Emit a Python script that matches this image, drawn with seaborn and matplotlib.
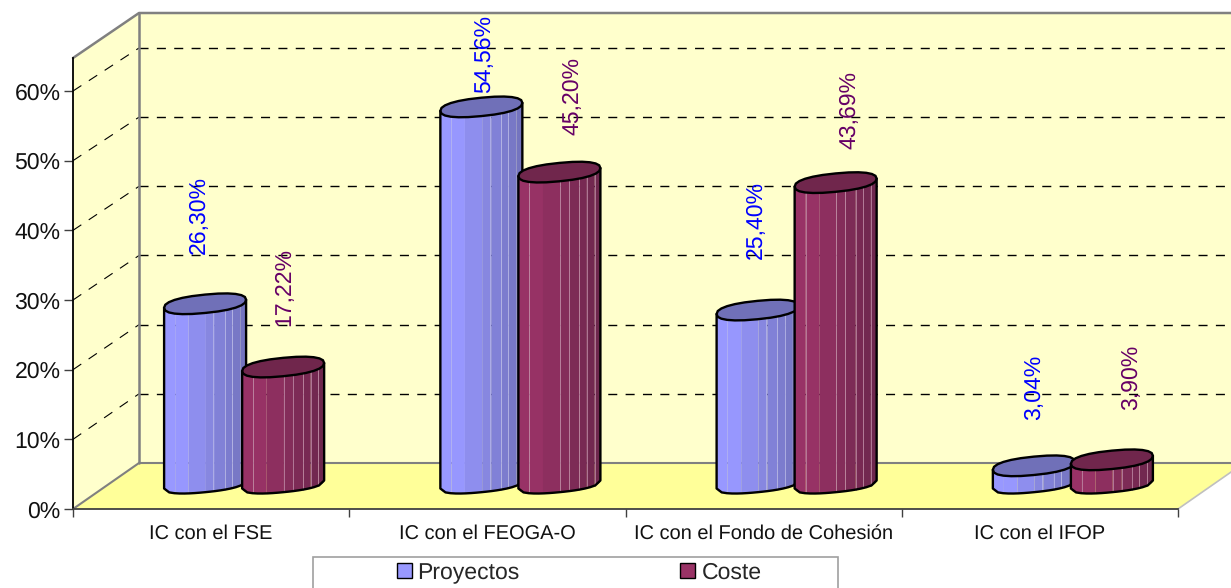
import numpy as np
import pandas as pd
import matplotlib
matplotlib.use('Agg')
import matplotlib.pyplot as plt
from matplotlib.patches import Patch, Rectangle
import seaborn as sns

categorias = ['IC con el FSE', 'IC con el FEOGA-O', 'IC con el Fondo de Cohesión', 'IC con el IFOP']
proyectos = [26.30, 54.56, 25.40, 3.04]
coste = [17.22, 45.20, 43.69, 3.90]
series = ['Proyectos', 'Coste']

W, H = 1231, 588
X0, X1, Y0, Y60, YTOP = 73, 1178, 509, 91, 58   # plano frontal, en pixeles
PPX = (X1 - X0) / 4
PPY = (Y0 - Y60) / 60

sns.set_theme(style='white')
plt.rcParams['font.family'] = ['Liberation Sans', 'DejaVu Sans']
plt.rcParams['text.hinting'] = 'none'
plt.rcParams['text.hinting_factor'] = 1

df = pd.DataFrame({
    'categoria': categorias * 2,
    'serie': [series[0]] * 4 + [series[1]] * 4,
    'valor': proyectos + coste,
})

fig = plt.figure(figsize=(W / 100, H / 100), dpi=100)
ax = fig.add_axes([X0 / W, 1 - Y0 / H, (X1 - X0) / W, (Y0 - YTOP) / H])
ax.patch.set_alpha(0)

sns.barplot(data=df, x='categoria', y='valor', hue='serie', hue_order=series,
            width=0.565, legend=False, ax=ax, errorbar=None)
ymax = (Y0 - YTOP) / PPY
ax.set_xlim(-0.5, 3.5)
ax.set_ylim(0, ymax)
ax.set_xlabel('')
ax.set_ylabel('')

# profundidad del grafico en unidades de datos
dx = 66 / PPX
dy = 46 / PPY
back_top = (Y0 - 13) / PPY
back_scale = 415 / 418   # la pared del fondo es un poco mas baja
x_l, x_r = -0.5, 3.5
wall = '#FFFFCC'
floor = '#FFFF99'
edge = '#808080'
ax.fill([x_l + dx, x_r + 1, x_r + 1, x_l + dx], [dy, dy, back_top, back_top], color=wall, lw=0, clip_on=False, zorder=0)
ax.fill([x_l, x_l + dx, x_l + dx, x_l], [0, dy, back_top, ymax], color=wall, lw=0, clip_on=False, zorder=0)
ax.fill([x_l, x_l + dx, x_r + dx, x_r], [0, dy, dy, 0], color=floor, lw=0, clip_on=False, zorder=0)

# lineas de division
ticks = np.arange(0, 70, 10)
for t in ticks[1:]:
    yb = t * back_scale + dy
    ax.plot([x_l + dx, x_r + 1], [yb, yb], color='black', lw=1, dashes=(6.5, 6), clip_on=False, zorder=1)
    ax.plot([x_l, x_l + dx], [t, yb], color='black', lw=0.8, dashes=(9, 8), clip_on=False, zorder=1)

ax.plot([x_l + dx, x_l + dx], [dy, back_top], color=edge, lw=1.8, clip_on=False, zorder=1.5)
ax.plot([x_l, x_l + dx, x_r + 1], [ymax, back_top, back_top], color=edge, lw=1.8, clip_on=False, zorder=1.5)
ax.plot([x_l, x_l + dx, x_r + 1], [0, dy, dy], color=edge, lw=1.5, clip_on=False, zorder=1.5)
ax.plot([x_r, x_r + dx], [0, dy], color='#C0C0C0', lw=1.2, clip_on=False, zorder=1.5)

colores = {
    'Proyectos': dict(izq=(152, 152, 255), der=(114, 114, 188), tapa='#7070B8', linea='#B8B8E8', leg='#9999FF',
                      rayas=[0.2, 0.48, 0.66]),
    'Coste': dict(izq=(152, 50, 102), der=(108, 38, 76), tapa='#70264C', linea='#C08CA8', leg='#993366',
                  rayas=[-0.73, 0.02, 0.24, 0.49, 0.67, 0.86]),
}
texto_color = {'Proyectos': '#0000FF', 'Coste': '#660066'}

# ajuste de las etiquetas, en pixeles (x, y)
nudge = {
    'Proyectos': [(-6, 50), (3, 14), (-2, 51), (0, 46)],
    'Coste': [(1, 41), (13, 37), (14, 34), (19, 50)],
}

# bandas del cilindro
u = np.array([-1, -0.73, -0.4, 0.02, 0.24, 0.49, 0.67, 0.86, 1])
a = 41 / PPX
b = 9.2 / PPY
k = 4 / PPY
y_base = 22 / PPY
y_suelo = 24.5 / PPY
shift = 33 / PPX
P = 0.85   # superelipse: tapas menos redondas que una elipse


def mezcla(c0, c1, t):
    return tuple((c0[i] + (c1[i] - c0[i]) * t) / 255 for i in range(3))


def borde_inf(uu, yb):
    return yb + k * uu - (b - 1.5 / PPY) * (1 - np.abs(uu) ** (2 / P)) ** (P / 2)


def cilindro(cx, alto, col, z):
    yb = y_suelo
    yt = y_base + alto
    for u0, u1 in zip(u[:-1], u[1:]):
        uu = np.linspace(u0, u1, 8)
        low = borde_inf(uu, yb)
        up = yt + k * uu
        t = np.clip((0.5 * (u0 + u1) + 0.6) / 1.6, 0, 1)
        ax.fill(np.r_[cx + a * uu, cx + a * uu[::-1]], np.r_[low, up[::-1]],
                color=mezcla(col['izq'], col['der'], t), lw=0, clip_on=False, zorder=z)
    for r in col['rayas']:
        ax.plot([cx + a * r, cx + a * r], [borde_inf(r, yb), yt + k * r],
                color=col['linea'], lw=0.7, alpha=0.8, clip_on=False, zorder=z + 0.1)
    # contorno
    uu = np.linspace(-1, 1, 17)
    ax.plot(np.r_[cx - a, cx + a * uu, cx + a], np.r_[yt - k, borde_inf(uu, yb), yt + k],
            color='black', lw=1.7, clip_on=False, zorder=z + 0.2)
    th = np.linspace(0, 2 * np.pi, 25)
    cs = np.sign(np.cos(th)) * np.abs(np.cos(th)) ** P
    sn = np.sign(np.sin(th)) * np.abs(np.sin(th)) ** P
    ax.fill(cx + a * cs, yt + k * cs + b * sn, facecolor=col['tapa'],
            edgecolor='black', lw=1.7, clip_on=False, zorder=z + 0.3)


for serie, cont in zip(series, ax.containers):
    col = colores[serie]
    for i, rect in enumerate(cont):
        cx = rect.get_x() + rect.get_width() / 2 + shift
        alto = rect.get_height()
        rect.set_visible(False)
        cilindro(cx, alto, col, 3 + series.index(serie) + 0.5 * i)
        nx, ny = nudge[serie][i]
        txt = f'{alto:.2f}%'.replace('.', ',')
        ax.annotate(txt, (cx, y_base + alto), xytext=(nx * 0.72, ny * 0.72), textcoords='offset points',
                    rotation=90, ha='center', va='bottom', fontsize=16.6, color=texto_color[serie],
                    annotation_clip=False, zorder=10)

# ejes
ax.set_yticks(ticks)
ax.set_yticklabels([f'{t}%' for t in ticks], fontsize=16.6)
ax.set_xticks(range(4))
ax.set_xticklabels(categorias, fontsize=14.4, color='#111111')
ax.set_xticks(np.arange(-0.5, 4, 1), minor=True)
ax.tick_params(axis='x', which='major', length=0, pad=11)
ax.tick_params(axis='x', which='minor', bottom=True, length=5.5, width=1, color='#404040')
ax.tick_params(axis='y', left=True, length=6.5, width=1, color='#404040', pad=2.5, labelcolor='#111111')
for s in ['top', 'right']:
    ax.spines[s].set_visible(False)
ax.spines['left'].set_color('black')
ax.spines['left'].set_linewidth(1.3)
ax.spines['bottom'].set_color('#404040')
ax.spines['bottom'].set_linewidth(1.3)

# leyenda, cortada por el borde inferior como en el original
fig.add_artist(Rectangle((313 / W, 1 - 610 / H), 525 / W, 53 / H, transform=fig.transFigure,
                         facecolor='white', edgecolor='#A0A0A0', lw=1.2))
handles = [Patch(facecolor=colores[s]['leg'], edgecolor='black', lw=1) for s in series]
fig.legend(handles, series, ncol=2, frameon=False, loc='center', bbox_to_anchor=(579 / W, 1 - 573 / H),
           fontsize=16.5, handlelength=0.66, handleheight=0.62, handletextpad=0.26, columnspacing=7.0,
           borderpad=0, borderaxespad=0)

fig.savefig('out.png', dpi=100, facecolor='white')
